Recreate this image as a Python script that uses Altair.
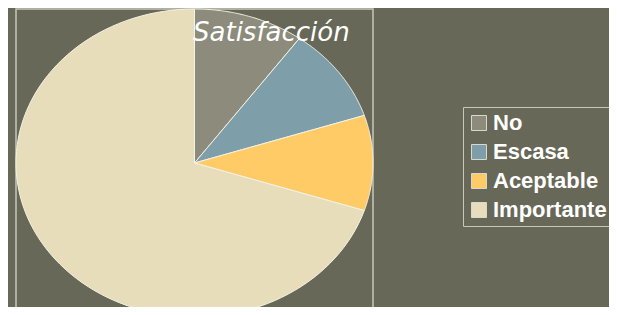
import altair as alt
import pandas as pd

categories = ["No", "Escasa", "Aceptable", "Importante"]
values = [10, 10, 10, 70]
colors = ["#8c8b7c", "#7e9ea9", "#ffcb66", "#e8ddba"]

df = pd.DataFrame({"cat": categories, "val": values, "idx": list(range(len(categories)))})

pie = (
    alt.Chart(df, title=alt.Title(
        "Satisfacción", anchor="start", frame="group", orient="top", offset=0,
        dx=177, dy=60, baseline="alphabetic", font="DejaVu Sans", fontStyle="italic",
        fontWeight="normal", fontSize=26, color="#ffffff"))
    .transform_joinaggregate(total="sum(val)")
    .transform_window(cum="sum(val)", sort=[alt.SortField("idx")])
    .transform_calculate(
        a0="(datum.cum - datum.val) / datum.total * 2 * PI",
        a1="datum.cum / datum.total * 2 * PI",
        k="sequence(0, 102)",
    )
    .transform_flatten(["k"])
    .transform_calculate(
        ang="datum.a0 + (datum.a1 - datum.a0) * (datum.k - 1) / 100",
    )
    .transform_calculate(
        px="datum.k == 0 ? 0 : sin(datum.ang)",
        py="datum.k == 0 ? 0 : cos(datum.ang)",
    )
    .mark_line(interpolate="linear-closed", stroke="#f4f2e6", strokeWidth=1, clip=False)
    .encode(
        x=alt.X("px:Q", scale=alt.Scale(domain=[-1, 1], nice=False, zero=False), axis=None),
        y=alt.Y("py:Q", scale=alt.Scale(domain=[-1, 1], nice=False, zero=False), axis=None),
        order=alt.Order("k:Q"),
        detail="cat:N",
        fill=alt.Fill(
            "cat:N",
            scale=alt.Scale(domain=categories, range=colors),
            sort=categories,
            legend=alt.Legend(
                title=None, orient="none", legendX=447, legendY=98,
                symbolType="square", symbolSize=225, symbolStrokeColor="#d8d8cc",
                symbolStrokeWidth=1, labelColor="#ffffff", labelFont="Liberation Sans",
                labelFontWeight="bold", labelFontSize=22, rowPadding=7, symbolOffset=0,
                labelOffset=3, strokeColor="#c8c8b8", padding=5, labelLimit=300,
            ),
        ),
    )
)

chart = (
    pie.properties(
        width=357, height=308, background="#686858",
        autosize=alt.AutoSizeParams(type="none"),
        padding={"left": 8, "top": 1, "right": 236, "bottom": -10},
    )
    .configure_view(stroke="#c8c8b8", strokeWidth=1.5)
)

chart.save("out.html", embed_options={"renderer": "svg", "actions": False})
